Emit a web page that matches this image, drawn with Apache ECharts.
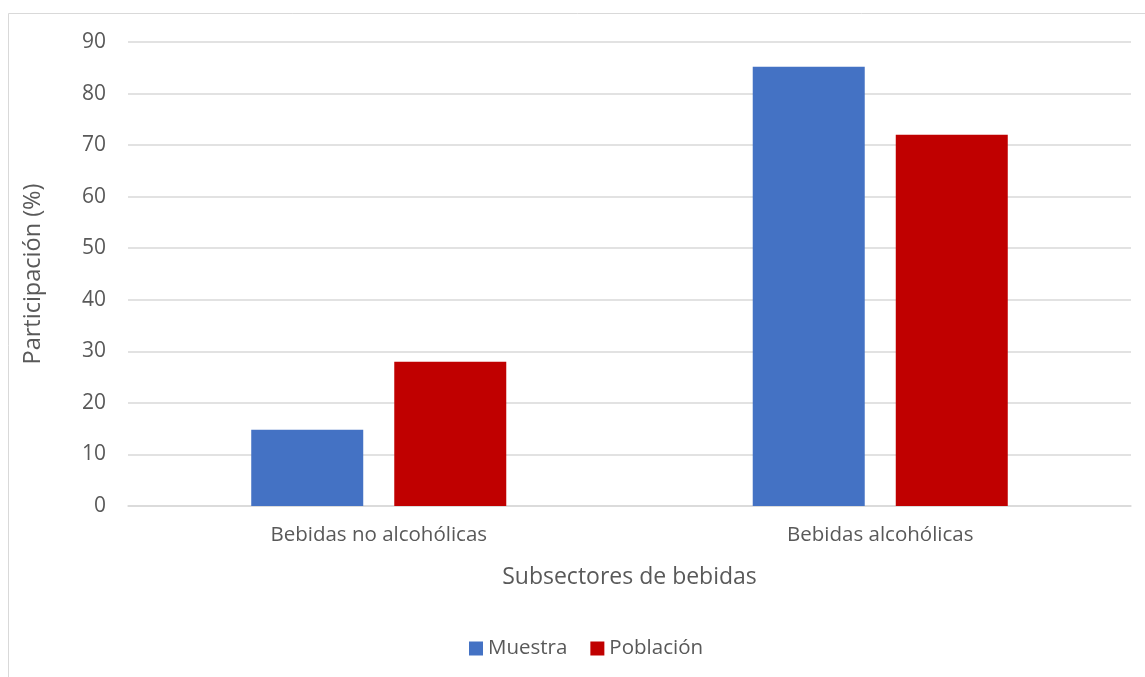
<!DOCTYPE html>
<html><head><meta charset="utf-8">
<script src="https://cdn.jsdelivr.net/npm/echarts@6/dist/echarts.min.js"></script>
<style>html,body{margin:0;padding:0;background:#fff}#c{width:1145px;height:677px}</style>
</head><body><div id="c"></div>
<script>
const categories = ['Bebidas no alcohólicas', 'Bebidas alcohólicas'];
const muestra = [14.8, 85.2];
const poblacion = [28, 72];
const yTicks = {min: 0, max: 90, interval: 10};
const seriesNames = ['Muestra', 'Población'];

const FONT = 'Open Sans';
const TXT = '#595959';
const chart = echarts.init(document.getElementById('c'), null, {renderer: 'canvas'});
chart.setOption({
  backgroundColor: '#fff',
  animation: false,
  graphic: [{
    type: 'rect', shape: {x: 8.5, y: 13.5, width: 1200, height: 700},
    style: {fill: 'none', stroke: '#d9d9d9', lineWidth: 1}, z: -1
  }],
  grid: {left: 128, right: 14, top: 42, bottom: 171},
  legend: {
    bottom: 13, left: 464, itemWidth: 14, itemHeight: 14, itemGap: 23,
    icon: 'rect',
    textStyle: {fontFamily: FONT, fontSize: 20.5, color: TXT},
    data: seriesNames
  },
  xAxis: {
    type: 'category', data: categories,
    axisLine: {lineStyle: {color: '#d9d9d9', width: 1.5}},
    axisTick: {show: false},
    axisLabel: {fontFamily: FONT, fontSize: 20.5, color: TXT, margin: 19},
    name: 'Subsectores de bebidas', nameLocation: 'middle', nameGap: 60,
    nameTextStyle: {fontFamily: FONT, fontSize: 23, color: TXT}
  },
  yAxis: {
    type: 'value', min: yTicks.min, max: yTicks.max, interval: yTicks.interval,
    axisLine: {show: false}, axisTick: {show: false},
    splitLine: {lineStyle: {color: '#d9d9d9', width: 1.5}},
    axisLabel: {fontFamily: FONT, fontSize: 21, color: TXT, margin: 22},
    name: 'Participación (%)', nameLocation: 'middle', nameGap: 83,
    nameTextStyle: {fontFamily: FONT, fontSize: 23.5, color: TXT}
  },
  series: [
    {name: seriesNames[0], type: 'bar', data: muestra, barWidth: 112, barGap: '27.7%',
     itemStyle: {color: '#4472c4'}},
    {name: seriesNames[1], type: 'bar', data: poblacion, barWidth: 112,
     itemStyle: {color: '#c00000'}}
  ]
});
</script></body></html>
